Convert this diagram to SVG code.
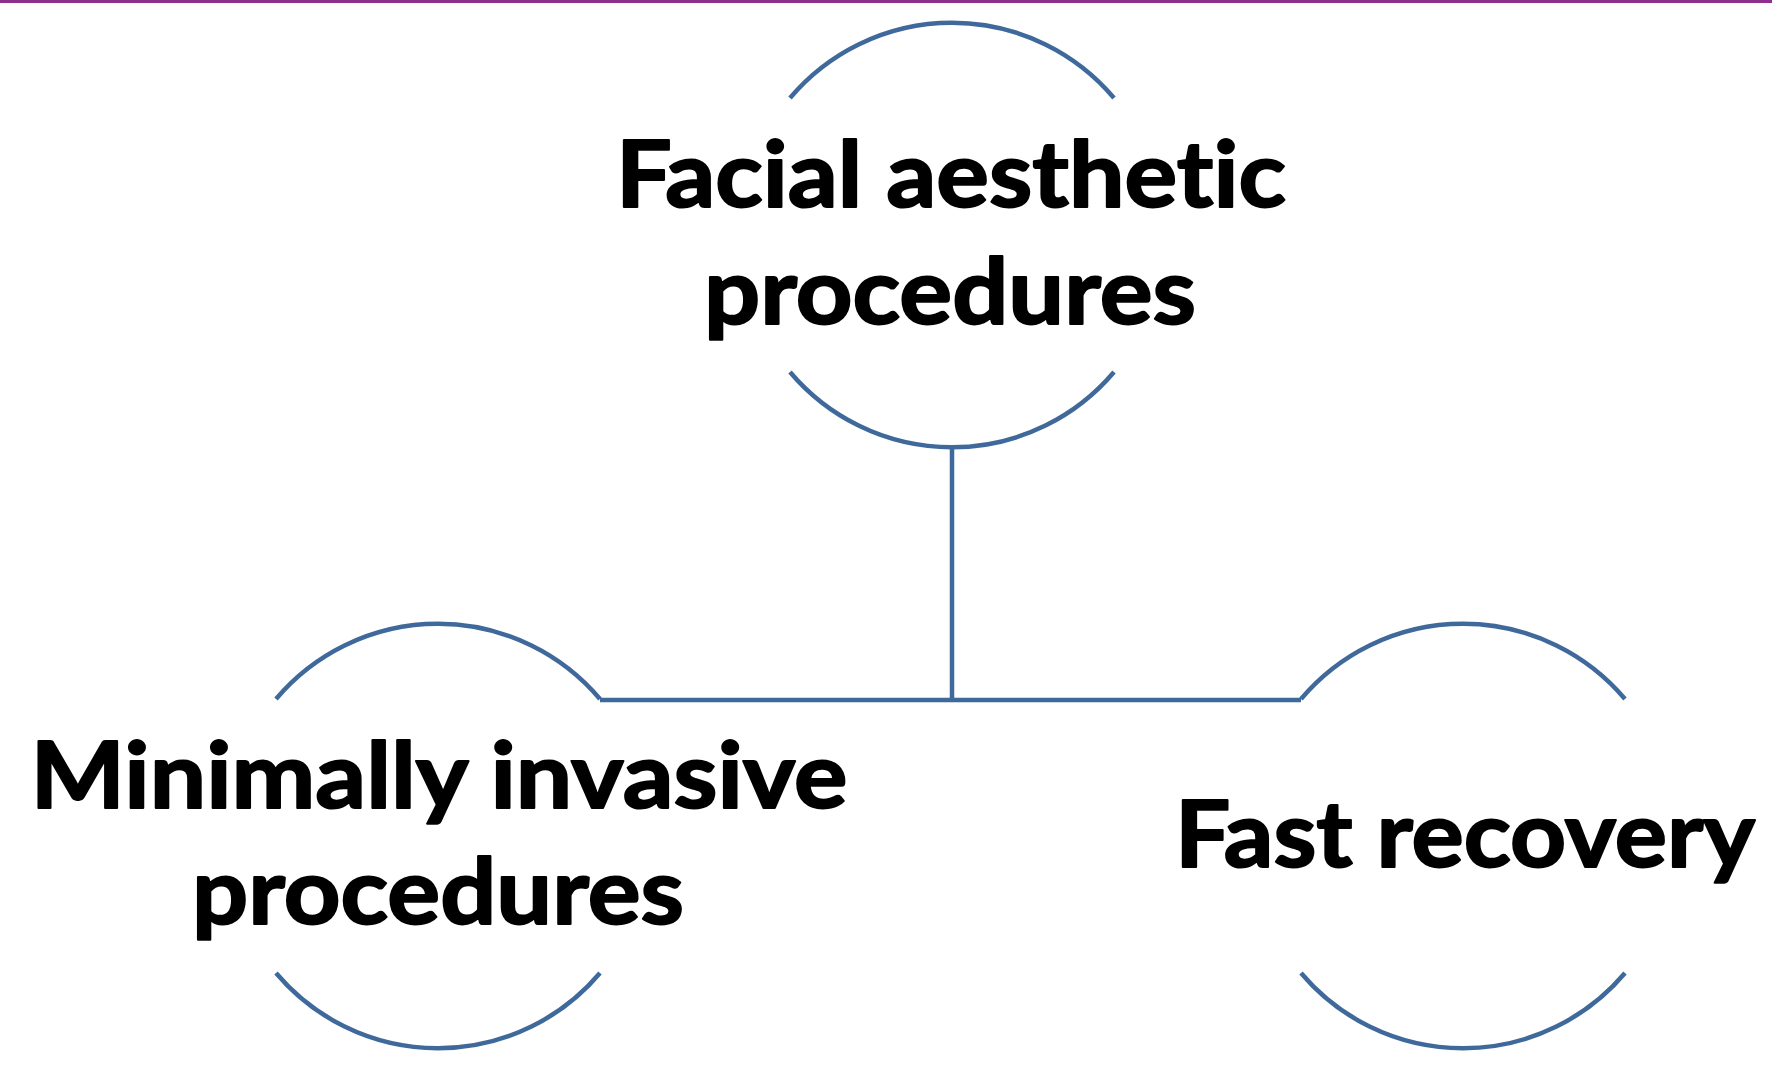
<svg xmlns="http://www.w3.org/2000/svg" width="1772" height="1065" viewBox="0 0 1772 1065">
<style>
.arc{fill:none;stroke:#3f699b;stroke-width:4.5;stroke-linecap:butt}
.lbl{font-family:Lato,"Open Sans","Liberation Sans",sans-serif;font-weight:bold;font-size:92px;fill:#000;stroke:#000;stroke-width:2;stroke-linejoin:round;text-anchor:middle;font-variant-ligatures:none;font-feature-settings:"liga" 0}
</style>
<rect x="0" y="0" width="1772" height="3" fill="#90308e"/>
<g id="connectors" class="arc">
<path d="M952,447 L952,700"/>
<path d="M600,700 L1301,700"/>
</g>
<g id="node-top">
<path class="arc" d="M790,98 A212,212 0 0 1 1114,98"/>
<path class="arc" d="M790,372 A212,212 0 0 0 1114,372"/>
<text class="lbl" x="951" y="207" textLength="670" lengthAdjust="spacingAndGlyphs">Facial aesthetic</text>
<text class="lbl" x="950" y="324" textLength="492" lengthAdjust="spacingAndGlyphs">procedures</text>
</g>
<g id="node-left">
<path class="arc" d="M276,699 A212,212 0 0 1 600,699"/>
<path class="arc" d="M276,973 A212,212 0 0 0 600,973"/>
<text class="lbl" x="439" y="808" textLength="817" lengthAdjust="spacingAndGlyphs">Minimally invasive</text>
<text class="lbl" x="438" y="924" textLength="492" lengthAdjust="spacingAndGlyphs">procedures</text>
</g>
<g id="node-right">
<path class="arc" d="M1301,699 A212,212 0 0 1 1625,699"/>
<path class="arc" d="M1301,973 A212,212 0 0 0 1625,973"/>
<text class="lbl" x="1465" y="867" textLength="580" lengthAdjust="spacingAndGlyphs">Fast recovery</text>
</g>
</svg>
